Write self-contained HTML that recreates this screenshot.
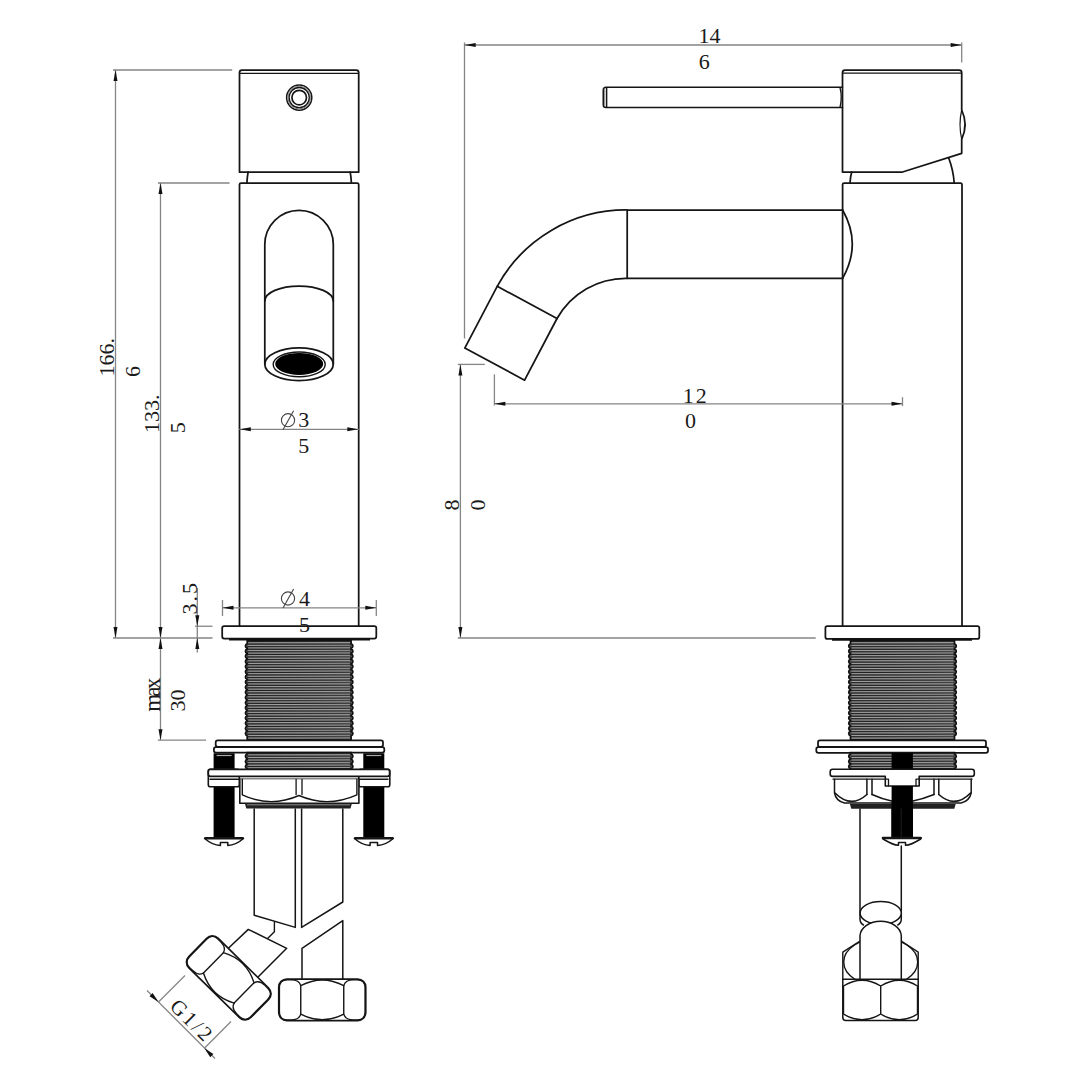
<!DOCTYPE html>
<html><head><meta charset="utf-8"><style>
html,body{margin:0;padding:0;background:#fff;}
svg{display:block;}
.m{fill:none;stroke:#151515;stroke-width:1.75;stroke-linejoin:round;stroke-linecap:round;}
.d{stroke:#858585;stroke-width:1.3;fill:none;}
.ar{fill:#111;stroke:none;}
.th{fill:#525252;stroke:#111;stroke-width:1.7;}
.tl{stroke:#1a1a1a;stroke-width:0.9;}
.tw{stroke:#c4c4c4;stroke-width:0.7;}
text{font-family:"Liberation Serif",serif;fill:#1a1a1a;}
</style></head><body>
<svg width="1080" height="1080" viewBox="0 0 1080 1080">
<rect width="1080" height="1080" fill="#fff"/>
<path class="m" d="M239.5,172.2 V72.5 Q239.5,70 242,70 H356.2 Q358.7,70 358.7,72.5 V172.2 Z"/>
<line class="m" x1="240" y1="73.3" x2="358.2" y2="73.3" style="stroke-width:1.3"/>
<circle class="m" cx="299.2" cy="97.6" r="12.6" style="stroke-width:1.5"/>
<circle cx="299.2" cy="97.6" r="11.4" fill="none" stroke="#888" stroke-width="1"/>
<circle class="m" cx="299.2" cy="97.6" r="10.1" style="stroke-width:1.3"/>
<circle class="m" cx="299.2" cy="97.6" r="7.3" style="stroke-width:1.7"/>
<path class="m" d="M248.1,172.2 Q247.2,177 246.9,183 M350.2,172.2 Q351.1,177 351.4,183"/>
<path class="m" d="M239.5,626 V184.5 Q239.5,183 241,183 H357.2 Q358.7,183 358.7,184.5 V626"/>
<path class="m" d="M264.8,364 V244.5 A34.25,34.25 0 0 1 333.3,244.5 V364"/>
<path class="m" d="M264.8,301 A34.25,15 0 0 1 333.3,301"/>
<ellipse class="m" cx="299.05" cy="364.2" rx="34.25" ry="16.3"/>
<ellipse class="m" cx="299.2" cy="364.4" rx="26" ry="12.4" style="stroke-width:1.4"/>
<ellipse cx="299.2" cy="363.9" rx="24" ry="11" fill="#000"/>
<rect class="m" x="222.2" y="626.1" width="154.1" height="12.4" rx="2"/>
<line x1="229" y1="639.6" x2="370" y2="639.6" stroke="#111" stroke-width="2"/>
<path class="th" d="M247.20,640.50 H351.10 V643.42 Q354.70,646.00 351.10,648.58 V648.57 Q354.70,651.15 351.10,653.73 V653.72 Q354.70,656.30 351.10,658.88 V658.87 Q354.70,661.45 351.10,664.02 V664.02 Q354.70,666.60 351.10,669.17 V669.17 Q354.70,671.75 351.10,674.32 V674.32 Q354.70,676.90 351.10,679.47 V679.47 Q354.70,682.05 351.10,684.62 V684.62 Q354.70,687.20 351.10,689.77 V689.77 Q354.70,692.35 351.10,694.92 V694.92 Q354.70,697.50 351.10,700.07 V700.07 Q354.70,702.65 351.10,705.22 V705.22 Q354.70,707.80 351.10,710.37 V710.37 Q354.70,712.95 351.10,715.52 V715.52 Q354.70,718.10 351.10,720.67 V720.67 Q354.70,723.25 351.10,725.82 V725.82 Q354.70,728.40 351.10,730.97 V730.97 Q354.70,733.55 351.10,736.12 V740.20 H247.20 V736.12 Q243.60,733.55 247.20,730.97 V730.97 Q243.60,728.40 247.20,725.82 V725.82 Q243.60,723.25 247.20,720.67 V720.67 Q243.60,718.10 247.20,715.52 V715.52 Q243.60,712.95 247.20,710.37 V710.37 Q243.60,707.80 247.20,705.22 V705.22 Q243.60,702.65 247.20,700.07 V700.07 Q243.60,697.50 247.20,694.92 V694.92 Q243.60,692.35 247.20,689.77 V689.77 Q243.60,687.20 247.20,684.62 V684.62 Q243.60,682.05 247.20,679.47 V679.47 Q243.60,676.90 247.20,674.32 V674.32 Q243.60,671.75 247.20,669.17 V669.17 Q243.60,666.60 247.20,664.02 V664.02 Q243.60,661.45 247.20,658.87 V658.88 Q243.60,656.30 247.20,653.72 V653.73 Q243.60,651.15 247.20,648.57 V648.58 Q243.60,646.00 247.20,643.42 Z"/>
<line class="tl" x1="247.2" y1="641.50" x2="351.1" y2="642.00"/>
<line class="tw" x1="248.2" y1="642.85" x2="350.1" y2="642.50"/>
<line class="tl" x1="247.2" y1="644.08" x2="351.1" y2="644.58"/>
<line class="tw" x1="248.2" y1="645.43" x2="350.1" y2="645.08"/>
<line class="tl" x1="247.2" y1="646.65" x2="351.1" y2="647.15"/>
<line class="tw" x1="248.2" y1="648.00" x2="350.1" y2="647.65"/>
<line class="tl" x1="247.2" y1="649.23" x2="351.1" y2="649.73"/>
<line class="tw" x1="248.2" y1="650.58" x2="350.1" y2="650.23"/>
<line class="tl" x1="247.2" y1="651.80" x2="351.1" y2="652.30"/>
<line class="tw" x1="248.2" y1="653.15" x2="350.1" y2="652.80"/>
<line class="tl" x1="247.2" y1="654.38" x2="351.1" y2="654.88"/>
<line class="tw" x1="248.2" y1="655.73" x2="350.1" y2="655.38"/>
<line class="tl" x1="247.2" y1="656.95" x2="351.1" y2="657.45"/>
<line class="tw" x1="248.2" y1="658.30" x2="350.1" y2="657.95"/>
<line class="tl" x1="247.2" y1="659.53" x2="351.1" y2="660.03"/>
<line class="tw" x1="248.2" y1="660.88" x2="350.1" y2="660.53"/>
<line class="tl" x1="247.2" y1="662.10" x2="351.1" y2="662.60"/>
<line class="tw" x1="248.2" y1="663.45" x2="350.1" y2="663.10"/>
<line class="tl" x1="247.2" y1="664.68" x2="351.1" y2="665.18"/>
<line class="tw" x1="248.2" y1="666.03" x2="350.1" y2="665.68"/>
<line class="tl" x1="247.2" y1="667.25" x2="351.1" y2="667.75"/>
<line class="tw" x1="248.2" y1="668.60" x2="350.1" y2="668.25"/>
<line class="tl" x1="247.2" y1="669.83" x2="351.1" y2="670.33"/>
<line class="tw" x1="248.2" y1="671.18" x2="350.1" y2="670.83"/>
<line class="tl" x1="247.2" y1="672.40" x2="351.1" y2="672.90"/>
<line class="tw" x1="248.2" y1="673.75" x2="350.1" y2="673.40"/>
<line class="tl" x1="247.2" y1="674.98" x2="351.1" y2="675.48"/>
<line class="tw" x1="248.2" y1="676.33" x2="350.1" y2="675.98"/>
<line class="tl" x1="247.2" y1="677.55" x2="351.1" y2="678.05"/>
<line class="tw" x1="248.2" y1="678.90" x2="350.1" y2="678.55"/>
<line class="tl" x1="247.2" y1="680.13" x2="351.1" y2="680.63"/>
<line class="tw" x1="248.2" y1="681.48" x2="350.1" y2="681.13"/>
<line class="tl" x1="247.2" y1="682.70" x2="351.1" y2="683.20"/>
<line class="tw" x1="248.2" y1="684.05" x2="350.1" y2="683.70"/>
<line class="tl" x1="247.2" y1="685.28" x2="351.1" y2="685.78"/>
<line class="tw" x1="248.2" y1="686.63" x2="350.1" y2="686.28"/>
<line class="tl" x1="247.2" y1="687.85" x2="351.1" y2="688.35"/>
<line class="tw" x1="248.2" y1="689.20" x2="350.1" y2="688.85"/>
<line class="tl" x1="247.2" y1="690.43" x2="351.1" y2="690.93"/>
<line class="tw" x1="248.2" y1="691.78" x2="350.1" y2="691.43"/>
<line class="tl" x1="247.2" y1="693.00" x2="351.1" y2="693.50"/>
<line class="tw" x1="248.2" y1="694.35" x2="350.1" y2="694.00"/>
<line class="tl" x1="247.2" y1="695.58" x2="351.1" y2="696.08"/>
<line class="tw" x1="248.2" y1="696.93" x2="350.1" y2="696.58"/>
<line class="tl" x1="247.2" y1="698.15" x2="351.1" y2="698.65"/>
<line class="tw" x1="248.2" y1="699.50" x2="350.1" y2="699.15"/>
<line class="tl" x1="247.2" y1="700.73" x2="351.1" y2="701.23"/>
<line class="tw" x1="248.2" y1="702.08" x2="350.1" y2="701.73"/>
<line class="tl" x1="247.2" y1="703.30" x2="351.1" y2="703.80"/>
<line class="tw" x1="248.2" y1="704.65" x2="350.1" y2="704.30"/>
<line class="tl" x1="247.2" y1="705.88" x2="351.1" y2="706.38"/>
<line class="tw" x1="248.2" y1="707.23" x2="350.1" y2="706.88"/>
<line class="tl" x1="247.2" y1="708.45" x2="351.1" y2="708.95"/>
<line class="tw" x1="248.2" y1="709.80" x2="350.1" y2="709.45"/>
<line class="tl" x1="247.2" y1="711.03" x2="351.1" y2="711.53"/>
<line class="tw" x1="248.2" y1="712.38" x2="350.1" y2="712.03"/>
<line class="tl" x1="247.2" y1="713.60" x2="351.1" y2="714.10"/>
<line class="tw" x1="248.2" y1="714.95" x2="350.1" y2="714.60"/>
<line class="tl" x1="247.2" y1="716.18" x2="351.1" y2="716.68"/>
<line class="tw" x1="248.2" y1="717.53" x2="350.1" y2="717.18"/>
<line class="tl" x1="247.2" y1="718.75" x2="351.1" y2="719.25"/>
<line class="tw" x1="248.2" y1="720.10" x2="350.1" y2="719.75"/>
<line class="tl" x1="247.2" y1="721.33" x2="351.1" y2="721.83"/>
<line class="tw" x1="248.2" y1="722.68" x2="350.1" y2="722.33"/>
<line class="tl" x1="247.2" y1="723.90" x2="351.1" y2="724.40"/>
<line class="tw" x1="248.2" y1="725.25" x2="350.1" y2="724.90"/>
<line class="tl" x1="247.2" y1="726.48" x2="351.1" y2="726.98"/>
<line class="tw" x1="248.2" y1="727.83" x2="350.1" y2="727.48"/>
<line class="tl" x1="247.2" y1="729.05" x2="351.1" y2="729.55"/>
<line class="tw" x1="248.2" y1="730.40" x2="350.1" y2="730.05"/>
<line class="tl" x1="247.2" y1="731.63" x2="351.1" y2="732.13"/>
<line class="tw" x1="248.2" y1="732.98" x2="350.1" y2="732.63"/>
<line class="tl" x1="247.2" y1="734.20" x2="351.1" y2="734.70"/>
<line class="tw" x1="248.2" y1="735.55" x2="350.1" y2="735.20"/>
<line class="tl" x1="247.2" y1="736.78" x2="351.1" y2="737.28"/>
<line class="tw" x1="248.2" y1="738.13" x2="350.1" y2="737.78"/>
<line class="tl" x1="247.2" y1="739.35" x2="351.1" y2="739.85"/>
<line class="tw" x1="248.2" y1="740.70" x2="350.1" y2="740.35"/>
<rect class="m" x="215.7" y="740.4" width="167.3" height="6.4" rx="2" style="fill:#fff"/>
<rect class="m" x="213.9" y="747.2" width="170.4" height="5.4" rx="2" style="fill:#fff"/>
<path class="th" d="M247.20,752.60 H351.10 V753.72 Q354.70,756.30 351.10,758.88 V758.87 Q354.70,761.45 351.10,764.02 V764.02 Q354.70,766.60 351.10,769.17 V769.20 H247.20 V769.17 Q243.60,766.60 247.20,764.02 V764.02 Q243.60,761.45 247.20,758.87 V758.88 Q243.60,756.30 247.20,753.72 Z"/>
<line class="tl" x1="247.2" y1="753.60" x2="351.1" y2="754.10"/>
<line class="tw" x1="248.2" y1="754.95" x2="350.1" y2="754.60"/>
<line class="tl" x1="247.2" y1="756.18" x2="351.1" y2="756.68"/>
<line class="tw" x1="248.2" y1="757.53" x2="350.1" y2="757.18"/>
<line class="tl" x1="247.2" y1="758.75" x2="351.1" y2="759.25"/>
<line class="tw" x1="248.2" y1="760.10" x2="350.1" y2="759.75"/>
<line class="tl" x1="247.2" y1="761.33" x2="351.1" y2="761.83"/>
<line class="tw" x1="248.2" y1="762.68" x2="350.1" y2="762.33"/>
<line class="tl" x1="247.2" y1="763.90" x2="351.1" y2="764.40"/>
<line class="tw" x1="248.2" y1="765.25" x2="350.1" y2="764.90"/>
<line class="tl" x1="247.2" y1="766.48" x2="351.1" y2="766.98"/>
<line class="tw" x1="248.2" y1="767.83" x2="350.1" y2="767.48"/>
<rect x="213.6" y="753.3" width="21" height="84" fill="#000"/>
<line x1="216.6" y1="755.5" x2="231.6" y2="755.5" stroke="#aaa" stroke-width="1.2"/>
<rect x="363.3" y="753.3" width="21" height="84" fill="#000"/>
<line x1="366.3" y1="755.5" x2="381.3" y2="755.5" stroke="#aaa" stroke-width="1.2"/>
<rect class="m" x="208.3" y="769.4" width="31" height="17.3" rx="2" style="fill:#fff;stroke-width:1.6"/>
<rect class="m" x="358.8" y="769.4" width="31" height="17.3" rx="2" style="fill:#fff;stroke-width:1.6"/>
<rect class="m" x="208.3" y="769.4" width="181.3" height="6.9" rx="2" style="fill:#fff"/>
<line class="m" x1="210" y1="779.3" x2="388" y2="779.3" style="stroke-width:1.4"/>
<path class="m" d="M239.8,779.3 V803.2 H358.9 V779.3" style="fill:#fff;stroke-width:1.6"/>
<path class="m" d="M242.3,779.3 V794.8 Q270.5,808 299,795.5 Q327.5,808 356.9,794.8 V779.3" style="stroke-width:1.4"/>
<path class="m" d="M296.1,779.3 V794.5 M302,779.3 V794.5" style="stroke-width:1.3"/>
<path d="M244.9,803.5 H351.9 L350.5,808.6 H246.3 Z" fill="#222"/>
<line x1="247" y1="804.8" x2="350" y2="804.8" stroke="#999" stroke-width="0.9"/>
<path class="m" d="M254.2,809 V915.2 L295.3,927.4 V809" style="stroke-width:1.5"/>
<path class="m" d="M301.6,809 V927.4 L342.8,902 V809" style="stroke-width:1.5"/>
<path class="m" d="M205.3,838.2 H242.8" style="stroke-width:2.6;stroke-linecap:round"/>
<path class="m" d="M205.3,839 Q212.1,845 220.4,845.4 V842.5 H227.8 V845.4 Q236.1,845 242.8,839" style="stroke-width:1.5"/>
<path class="m" d="M355.1,838.2 H392.6" style="stroke-width:2.6;stroke-linecap:round"/>
<path class="m" d="M355.1,839 Q361.8,845 370.1,845.4 V842.5 H377.5 V845.4 Q385.8,845 392.6,839" style="stroke-width:1.5"/>
<path class="m" d="M302,979.2 V948.3 L342.8,920.6 V979.2" style="stroke-width:1.5"/>
<g transform="translate(322.25,999.85) rotate(0)"><rect class="m" x="-43.5" y="-20.75" width="87" height="41.5" rx="8" style="stroke-width:1.7;fill:#fff"/><path class="m" style="stroke-width:1.4" d="M-21.5,-14.2 V14.2 M21.5,-14.2 V14.2 M-21.5,-14.2 Q0,-25.6 21.5,-14.2 M-21.5,14.2 Q0,25.6 21.5,14.2"/><path class="m" style="stroke-width:1.3" d="M21.5,-14.2 Q23,-20 31,-20 H35 Q42.8,-20 42.8,-12 V12 Q42.8,20 35,20 H31 Q23,20 21.5,14.2 M-21.5,-14.2 Q-23,-20 -31,-20 H-35 Q-42.8,-20 -42.8,-12 V12 Q-42.8,20 -35,20 H-31 Q-23,20 -21.5,14.2"/></g>
<path class="m" d="M228.9,947.8 L248.3,929.4 L286.7,948.3 L258.3,976.7" style="stroke-width:1.5"/>
<path class="m" d="M274.4,922.2 V931.7 L267.8,938.3" style="stroke-width:1.4"/>
<g transform="translate(228.75,977.9) rotate(44.5)"><rect class="m" x="-43.5" y="-20.75" width="87" height="41.5" rx="8" style="stroke-width:1.7;fill:#fff"/><path class="m" style="stroke-width:1.4" d="M-21.5,-14.2 V14.2 M21.5,-14.2 V14.2 M-21.5,-14.2 Q0,-25.6 21.5,-14.2 M-21.5,14.2 Q0,25.6 21.5,14.2"/><path class="m" style="stroke-width:1.3" d="M21.5,-14.2 Q23,-20 31,-20 H35 Q42.8,-20 42.8,-12 V12 Q42.8,20 35,20 H31 Q23,20 21.5,14.2 M-21.5,-14.2 Q-23,-20 -31,-20 H-35 Q-42.8,-20 -42.8,-12 V12 Q-42.8,20 -35,20 H-31 Q-23,20 -21.5,14.2"/></g>
<line class="d" x1="147" y1="990.5" x2="215" y2="1058.5"/>
<path class="ar" d="M158.50,1002.00 L149.52,996.13 L152.63,993.02 Z"/>
<path class="ar" d="M204.40,1048.20 L213.38,1054.07 L210.27,1057.18 Z"/>
<line class="d" x1="158.5" y1="1002" x2="185" y2="975.5"/>
<line class="d" x1="204.4" y1="1048.2" x2="231" y2="1021.5"/>
<text x="187.2" y="1025.8" font-size="21" text-anchor="middle" letter-spacing="2.5" transform="rotate(45 187.2 1025.8)">G1/2</text>
<line class="d" x1="113" y1="70" x2="232.2" y2="70"/>
<line class="d" x1="115.5" y1="70" x2="115.5" y2="638"/>
<path class="ar" d="M115.50,70.00 L117.50,81.00 L113.50,81.00 Z"/>
<path class="ar" d="M115.50,638.00 L113.50,627.00 L117.50,627.00 Z"/>
<line class="d" x1="157.9" y1="183" x2="229.6" y2="183"/>
<line class="d" x1="160.5" y1="183" x2="160.5" y2="740.2"/>
<path class="ar" d="M160.50,183.00 L162.50,194.00 L158.50,194.00 Z"/>
<path class="ar" d="M160.50,638.00 L158.50,627.00 L162.50,627.00 Z"/>
<path class="ar" d="M160.50,638.00 L162.50,649.00 L158.50,649.00 Z"/>
<path class="ar" d="M160.50,740.20 L158.50,729.20 L162.50,729.20 Z"/>
<line class="d" x1="113" y1="638" x2="212.5" y2="638"/>
<line class="d" x1="157.8" y1="740.2" x2="206.1" y2="740.2"/>
<line class="d" x1="195" y1="626.25" x2="212.5" y2="626.25"/>
<line class="d" x1="197.3" y1="588" x2="197.3" y2="652.6"/>
<path class="ar" d="M197.30,626.25 L195.30,615.25 L199.30,615.25 Z"/>
<path class="ar" d="M197.30,638.00 L199.30,649.00 L195.30,649.00 Z"/>
<line class="d" x1="239.3" y1="429.3" x2="358.8" y2="429.3"/>
<path class="ar" d="M239.80,429.30 L250.80,427.30 L250.80,431.30 Z"/>
<path class="ar" d="M358.30,429.30 L347.30,431.30 L347.30,427.30 Z"/>
<line class="d" x1="222.5" y1="607.8" x2="376.3" y2="607.8"/>
<line class="d" x1="222.5" y1="600" x2="222.5" y2="616"/>
<line class="d" x1="376.3" y1="600" x2="376.3" y2="616"/>
<path class="ar" d="M222.50,607.80 L233.50,605.80 L233.50,609.80 Z"/>
<path class="ar" d="M376.30,607.80 L365.30,609.80 L365.30,605.80 Z"/>
<text x="114" y="376.5" font-size="22" text-anchor="start" transform="rotate(-90 114 376.5)">166.</text>
<text x="140" y="377" font-size="22" text-anchor="start" transform="rotate(-90 140 377)">6</text>
<text x="159.4" y="433" font-size="22" text-anchor="start" transform="rotate(-90 159.4 433)">133.</text>
<text x="185" y="433.2" font-size="22" text-anchor="start" transform="rotate(-90 185 433.2)">5</text>
<circle cx="288" cy="420.2" r="6.6" fill="none" stroke="#444" stroke-width="1.1"/>
<line x1="283" y1="429.7" x2="293.6" y2="410.7" stroke="#444" stroke-width="1.1"/>
<text x="298.2" y="427.1" font-size="22" text-anchor="start">3</text>
<text x="298.2" y="452.8" font-size="22" text-anchor="start">5</text>
<circle cx="288" cy="598.5" r="6.6" fill="none" stroke="#444" stroke-width="1.1"/>
<line x1="283" y1="608.0" x2="293.6" y2="589.0" stroke="#444" stroke-width="1.1"/>
<text x="299" y="606" font-size="22" text-anchor="start">4</text>
<text x="299" y="631.5" font-size="22" text-anchor="start">5</text>
<text x="197" y="614.5" font-size="22" text-anchor="start" letter-spacing="2" transform="rotate(-90 197 614.5)">3.5</text>
<text x="160.4" y="711.8" font-size="23" text-anchor="start" letter-spacing="-2.8" transform="rotate(-90 160.4 711.8)">max</text>
<text x="185" y="711.5" font-size="22" text-anchor="start" transform="rotate(-90 185 711.5)">30</text>
<line class="d" x1="464.7" y1="45" x2="961.7" y2="45"/>
<line class="d" x1="464.5" y1="42.5" x2="464.5" y2="338.5"/>
<line class="d" x1="961.7" y1="42.5" x2="961.7" y2="62.5"/>
<path class="ar" d="M464.70,45.00 L475.70,43.00 L475.70,47.00 Z"/>
<path class="ar" d="M961.70,45.00 L950.70,47.00 L950.70,43.00 Z"/>
<text x="698.5" y="42.6" font-size="22" text-anchor="start">14</text>
<text x="698.8" y="68.8" font-size="22" text-anchor="start">6</text>
<path class="m" d="M842.5,87.2 H606 Q603.3,87.2 603.3,90 V104.7 Q603.3,107.5 606,107.5 H842.5" style="stroke-width:1.6"/>
<line class="m" x1="606.6" y1="88" x2="606.6" y2="106.8" style="stroke-width:1.5"/>
<line x1="604.6" y1="89.5" x2="604.6" y2="105.3" stroke="#777" stroke-width="0.8"/>
<path class="m" d="M840,87.5 Q842.5,97.4 840,107.3" style="stroke-width:1.3"/>
<path class="m" d="M842.5,172 V72.5 Q842.5,70 845,70 H959.2 Q961.7,70 961.7,72.5 V110 Q968.5,124.5 961.7,139.2 V153.3 L902.5,172 Z"/>
<line class="m" x1="843" y1="73.2" x2="961.2" y2="73.2" style="stroke-width:1.3"/>
<path class="m" d="M961.7,110 Q958.3,124.5 961.7,139.2" style="stroke-width:1.2"/>
<path class="m" d="M851.7,172 Q850.3,177 850,183 M948.8,158.3 Q953.3,170 954.2,183"/>
<path class="m" d="M842.6,626 V184.5 Q842.6,183 844.1,183 H960.5 Q962,183 962,184.5 V626"/>
<path class="m" d="M842.6,210 H627.2 A147,147 0 0 0 497.2,286.3 L464.8,348.1 L524.6,380.2 L557,318.5 A79,79 0 0 1 627.2,278.3 H842.6"/>
<path class="m" d="M627.2,210 V278.3 M497.2,286.3 L557,318.5"/>
<path class="m" d="M842.6,210 Q862,244 842.6,278.3"/>
<rect class="m" x="825.4" y="626" width="153.9" height="12.9" rx="2"/>
<line x1="832" y1="639.8" x2="972" y2="639.8" stroke="#111" stroke-width="2"/>
<path class="th" d="M850.50,640.50 H954.50 V643.42 Q958.10,646.00 954.50,648.58 V648.57 Q958.10,651.15 954.50,653.73 V653.72 Q958.10,656.30 954.50,658.88 V658.87 Q958.10,661.45 954.50,664.02 V664.02 Q958.10,666.60 954.50,669.17 V669.17 Q958.10,671.75 954.50,674.32 V674.32 Q958.10,676.90 954.50,679.47 V679.47 Q958.10,682.05 954.50,684.62 V684.62 Q958.10,687.20 954.50,689.77 V689.77 Q958.10,692.35 954.50,694.92 V694.92 Q958.10,697.50 954.50,700.07 V700.07 Q958.10,702.65 954.50,705.22 V705.22 Q958.10,707.80 954.50,710.37 V710.37 Q958.10,712.95 954.50,715.52 V715.52 Q958.10,718.10 954.50,720.67 V720.67 Q958.10,723.25 954.50,725.82 V725.82 Q958.10,728.40 954.50,730.97 V730.97 Q958.10,733.55 954.50,736.12 V739.80 H850.50 V736.12 Q846.90,733.55 850.50,730.97 V730.97 Q846.90,728.40 850.50,725.82 V725.82 Q846.90,723.25 850.50,720.67 V720.67 Q846.90,718.10 850.50,715.52 V715.52 Q846.90,712.95 850.50,710.37 V710.37 Q846.90,707.80 850.50,705.22 V705.22 Q846.90,702.65 850.50,700.07 V700.07 Q846.90,697.50 850.50,694.92 V694.92 Q846.90,692.35 850.50,689.77 V689.77 Q846.90,687.20 850.50,684.62 V684.62 Q846.90,682.05 850.50,679.47 V679.47 Q846.90,676.90 850.50,674.32 V674.32 Q846.90,671.75 850.50,669.17 V669.17 Q846.90,666.60 850.50,664.02 V664.02 Q846.90,661.45 850.50,658.87 V658.88 Q846.90,656.30 850.50,653.72 V653.73 Q846.90,651.15 850.50,648.57 V648.58 Q846.90,646.00 850.50,643.42 Z"/>
<line class="tl" x1="850.5" y1="641.50" x2="954.5" y2="642.00"/>
<line class="tw" x1="851.5" y1="642.85" x2="953.5" y2="642.50"/>
<line class="tl" x1="850.5" y1="644.08" x2="954.5" y2="644.58"/>
<line class="tw" x1="851.5" y1="645.43" x2="953.5" y2="645.08"/>
<line class="tl" x1="850.5" y1="646.65" x2="954.5" y2="647.15"/>
<line class="tw" x1="851.5" y1="648.00" x2="953.5" y2="647.65"/>
<line class="tl" x1="850.5" y1="649.23" x2="954.5" y2="649.73"/>
<line class="tw" x1="851.5" y1="650.58" x2="953.5" y2="650.23"/>
<line class="tl" x1="850.5" y1="651.80" x2="954.5" y2="652.30"/>
<line class="tw" x1="851.5" y1="653.15" x2="953.5" y2="652.80"/>
<line class="tl" x1="850.5" y1="654.38" x2="954.5" y2="654.88"/>
<line class="tw" x1="851.5" y1="655.73" x2="953.5" y2="655.38"/>
<line class="tl" x1="850.5" y1="656.95" x2="954.5" y2="657.45"/>
<line class="tw" x1="851.5" y1="658.30" x2="953.5" y2="657.95"/>
<line class="tl" x1="850.5" y1="659.53" x2="954.5" y2="660.03"/>
<line class="tw" x1="851.5" y1="660.88" x2="953.5" y2="660.53"/>
<line class="tl" x1="850.5" y1="662.10" x2="954.5" y2="662.60"/>
<line class="tw" x1="851.5" y1="663.45" x2="953.5" y2="663.10"/>
<line class="tl" x1="850.5" y1="664.68" x2="954.5" y2="665.18"/>
<line class="tw" x1="851.5" y1="666.03" x2="953.5" y2="665.68"/>
<line class="tl" x1="850.5" y1="667.25" x2="954.5" y2="667.75"/>
<line class="tw" x1="851.5" y1="668.60" x2="953.5" y2="668.25"/>
<line class="tl" x1="850.5" y1="669.83" x2="954.5" y2="670.33"/>
<line class="tw" x1="851.5" y1="671.18" x2="953.5" y2="670.83"/>
<line class="tl" x1="850.5" y1="672.40" x2="954.5" y2="672.90"/>
<line class="tw" x1="851.5" y1="673.75" x2="953.5" y2="673.40"/>
<line class="tl" x1="850.5" y1="674.98" x2="954.5" y2="675.48"/>
<line class="tw" x1="851.5" y1="676.33" x2="953.5" y2="675.98"/>
<line class="tl" x1="850.5" y1="677.55" x2="954.5" y2="678.05"/>
<line class="tw" x1="851.5" y1="678.90" x2="953.5" y2="678.55"/>
<line class="tl" x1="850.5" y1="680.13" x2="954.5" y2="680.63"/>
<line class="tw" x1="851.5" y1="681.48" x2="953.5" y2="681.13"/>
<line class="tl" x1="850.5" y1="682.70" x2="954.5" y2="683.20"/>
<line class="tw" x1="851.5" y1="684.05" x2="953.5" y2="683.70"/>
<line class="tl" x1="850.5" y1="685.28" x2="954.5" y2="685.78"/>
<line class="tw" x1="851.5" y1="686.63" x2="953.5" y2="686.28"/>
<line class="tl" x1="850.5" y1="687.85" x2="954.5" y2="688.35"/>
<line class="tw" x1="851.5" y1="689.20" x2="953.5" y2="688.85"/>
<line class="tl" x1="850.5" y1="690.43" x2="954.5" y2="690.93"/>
<line class="tw" x1="851.5" y1="691.78" x2="953.5" y2="691.43"/>
<line class="tl" x1="850.5" y1="693.00" x2="954.5" y2="693.50"/>
<line class="tw" x1="851.5" y1="694.35" x2="953.5" y2="694.00"/>
<line class="tl" x1="850.5" y1="695.58" x2="954.5" y2="696.08"/>
<line class="tw" x1="851.5" y1="696.93" x2="953.5" y2="696.58"/>
<line class="tl" x1="850.5" y1="698.15" x2="954.5" y2="698.65"/>
<line class="tw" x1="851.5" y1="699.50" x2="953.5" y2="699.15"/>
<line class="tl" x1="850.5" y1="700.73" x2="954.5" y2="701.23"/>
<line class="tw" x1="851.5" y1="702.08" x2="953.5" y2="701.73"/>
<line class="tl" x1="850.5" y1="703.30" x2="954.5" y2="703.80"/>
<line class="tw" x1="851.5" y1="704.65" x2="953.5" y2="704.30"/>
<line class="tl" x1="850.5" y1="705.88" x2="954.5" y2="706.38"/>
<line class="tw" x1="851.5" y1="707.23" x2="953.5" y2="706.88"/>
<line class="tl" x1="850.5" y1="708.45" x2="954.5" y2="708.95"/>
<line class="tw" x1="851.5" y1="709.80" x2="953.5" y2="709.45"/>
<line class="tl" x1="850.5" y1="711.03" x2="954.5" y2="711.53"/>
<line class="tw" x1="851.5" y1="712.38" x2="953.5" y2="712.03"/>
<line class="tl" x1="850.5" y1="713.60" x2="954.5" y2="714.10"/>
<line class="tw" x1="851.5" y1="714.95" x2="953.5" y2="714.60"/>
<line class="tl" x1="850.5" y1="716.18" x2="954.5" y2="716.68"/>
<line class="tw" x1="851.5" y1="717.53" x2="953.5" y2="717.18"/>
<line class="tl" x1="850.5" y1="718.75" x2="954.5" y2="719.25"/>
<line class="tw" x1="851.5" y1="720.10" x2="953.5" y2="719.75"/>
<line class="tl" x1="850.5" y1="721.33" x2="954.5" y2="721.83"/>
<line class="tw" x1="851.5" y1="722.68" x2="953.5" y2="722.33"/>
<line class="tl" x1="850.5" y1="723.90" x2="954.5" y2="724.40"/>
<line class="tw" x1="851.5" y1="725.25" x2="953.5" y2="724.90"/>
<line class="tl" x1="850.5" y1="726.48" x2="954.5" y2="726.98"/>
<line class="tw" x1="851.5" y1="727.83" x2="953.5" y2="727.48"/>
<line class="tl" x1="850.5" y1="729.05" x2="954.5" y2="729.55"/>
<line class="tw" x1="851.5" y1="730.40" x2="953.5" y2="730.05"/>
<line class="tl" x1="850.5" y1="731.63" x2="954.5" y2="732.13"/>
<line class="tw" x1="851.5" y1="732.98" x2="953.5" y2="732.63"/>
<line class="tl" x1="850.5" y1="734.20" x2="954.5" y2="734.70"/>
<line class="tw" x1="851.5" y1="735.55" x2="953.5" y2="735.20"/>
<line class="tl" x1="850.5" y1="736.78" x2="954.5" y2="737.28"/>
<line class="tw" x1="851.5" y1="738.13" x2="953.5" y2="737.78"/>
<rect class="m" x="818" y="740.4" width="168" height="6.5" rx="2" style="fill:#fff"/>
<rect class="m" x="816.3" y="747" width="171.7" height="5.8" rx="2" style="fill:#fff"/>
<path class="th" d="M850.50,752.60 H954.50 V753.72 Q958.10,756.30 954.50,758.88 V758.87 Q958.10,761.45 954.50,764.02 V764.02 Q958.10,766.60 954.50,769.17 V769.20 H850.50 V769.17 Q846.90,766.60 850.50,764.02 V764.02 Q846.90,761.45 850.50,758.87 V758.88 Q846.90,756.30 850.50,753.72 Z"/>
<line class="tl" x1="850.5" y1="753.60" x2="954.5" y2="754.10"/>
<line class="tw" x1="851.5" y1="754.95" x2="953.5" y2="754.60"/>
<line class="tl" x1="850.5" y1="756.18" x2="954.5" y2="756.68"/>
<line class="tw" x1="851.5" y1="757.53" x2="953.5" y2="757.18"/>
<line class="tl" x1="850.5" y1="758.75" x2="954.5" y2="759.25"/>
<line class="tw" x1="851.5" y1="760.10" x2="953.5" y2="759.75"/>
<line class="tl" x1="850.5" y1="761.33" x2="954.5" y2="761.83"/>
<line class="tw" x1="851.5" y1="762.68" x2="953.5" y2="762.33"/>
<line class="tl" x1="850.5" y1="763.90" x2="954.5" y2="764.40"/>
<line class="tw" x1="851.5" y1="765.25" x2="953.5" y2="764.90"/>
<line class="tl" x1="850.5" y1="766.48" x2="954.5" y2="766.98"/>
<line class="tw" x1="851.5" y1="767.83" x2="953.5" y2="767.48"/>
<rect x="891.6" y="753" width="21.3" height="84" fill="#000"/>
<path class="m" d="M834.5,779.2 V793 Q836,801 844.4,803 H961 Q969.5,801 971.2,793 V779.2" style="fill:#fff;stroke-width:1.5"/>
<path class="m" d="M835,793 Q851,809 866.9,794.5 M872,794.5 Q882,799 891.6,801 M912.9,801 Q923,799 934,794.5 M938.8,794.5 Q955,809 970.5,793" style="stroke-width:1.6"/>
<path class="m" d="M866.9,779.2 V794.5 M872,779.2 V794.5 M934,779.2 V794.5 M938.8,779.2 V794.5" style="stroke-width:1.5"/>
<path class="m" d="M832.6,769.2 H971.8 Q974.3,769.2 974.3,771.7 V773.9 Q974.3,776.4 971.8,776.4 H919.2 V786 H885.3 V776.4 H832.6 Q830.2,776.4 830.2,773.9 V771.7 Q830.2,769.2 832.6,769.2 Z" style="fill:#fff;stroke-width:1.6"/>
<path class="m" d="M833,779.2 H888.5 V786 M916,786 V779.2 H972" style="stroke-width:1.3"/>
<rect x="891.6" y="786" width="21.3" height="51" fill="#000"/>
<path d="M849.9,804 H955.7 L954.3,808.8 H851.3 Z" fill="#222"/>
<rect x="891.6" y="803" width="21.3" height="34" fill="#000"/>
<path class="m" d="M883,838 H920.7" style="stroke-width:2.6;stroke-linecap:round"/>
<path class="m" d="M883,839 Q893,845 898.5,845.3 V842.5 H905.5 V845.3 Q911,845 920.7,839" style="stroke-width:1.5"/>
<path class="m" d="M860,809 V919 Q860,923 863.5,925 M901.3,809 V837 M901.3,846 V919 Q901.3,923 897.8,925" style="stroke-width:1.5"/>
<ellipse class="m" cx="880.7" cy="962" rx="37" ry="24" style="stroke-width:1.4"/>
<path class="m" d="M842.8,979.3 V952.2 L860,941 M918.2,979.3 V952.2 L901.3,941" style="stroke-width:1.4"/>
<ellipse class="m" cx="880.7" cy="913" rx="20.6" ry="11.5" style="stroke-width:1.5;fill:#fff"/>
<path class="m" d="M860,979 V935.5 A20.7,15.2 0 0 1 901.3,935.5 V979" style="stroke-width:1.5;fill:#fff"/>
<path class="m" d="M842.8,979.3 H918.2 V1017.6 Q918.2,1020.6 915.2,1020.6 H845.8 Q842.8,1020.6 842.8,1017.6 Z" style="fill:#fff;stroke-width:1.5"/>
<path class="m" d="M843.5,986 Q862,974.5 880.7,986 V1014 Q862,1025.5 843.5,1014 Z M880.7,986 Q899.4,974.5 917.5,986 V1014 Q899.4,1025.5 880.7,1014" style="stroke-width:1.4"/>
<line class="d" x1="457.8" y1="364.4" x2="484.8" y2="364.4"/>
<line class="d" x1="460.4" y1="364.4" x2="460.4" y2="638"/>
<path class="ar" d="M460.40,364.40 L462.40,375.40 L458.40,375.40 Z"/>
<path class="ar" d="M460.40,638.00 L458.40,627.00 L462.40,627.00 Z"/>
<line class="d" x1="457.8" y1="638" x2="815.7" y2="638"/>
<line class="d" x1="494.4" y1="374.3" x2="494.4" y2="405.5"/>
<line class="d" x1="494.4" y1="403.8" x2="902.5" y2="403.8"/>
<line class="d" x1="902.5" y1="397.2" x2="902.5" y2="406.1"/>
<path class="ar" d="M494.40,403.80 L505.40,401.80 L505.40,405.80 Z"/>
<path class="ar" d="M902.50,403.80 L891.50,405.80 L891.50,401.80 Z"/>
<text x="682.8" y="402.5" font-size="22" text-anchor="start" letter-spacing="2">12</text>
<text x="685" y="428.3" font-size="22" text-anchor="start">0</text>
<text x="459.2" y="505" font-size="22" text-anchor="middle" transform="rotate(-90 459.2 505)">8</text>
<text x="484.7" y="505" font-size="22" text-anchor="middle" transform="rotate(-90 484.7 505)">0</text>
</svg>
</body></html>
